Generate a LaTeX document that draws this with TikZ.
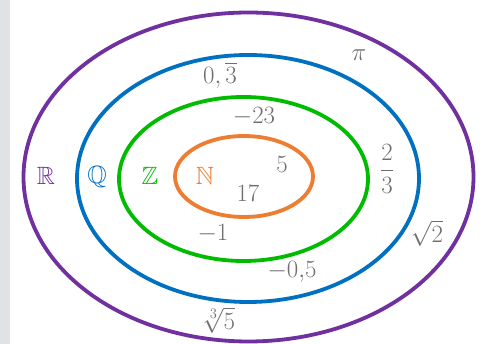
\documentclass[tikz,border=0pt]{standalone}
\usepackage{amsmath,amssymb}
\definecolor{cR}{HTML}{7030A0}
\definecolor{cQ}{HTML}{0070C0}
\definecolor{cZ}{HTML}{00BB00}
\definecolor{cN}{HTML}{ED7D31}
\definecolor{txt}{HTML}{6E6E6E}
\definecolor{strip}{HTML}{DFE3E6}
\begin{document}
\begin{tikzpicture}[x=1pt,y=-1pt,
  ring/.style={line width=3.8pt},
  num/.style={text=txt,inner sep=0pt,font=\fontsize{27}{30}\selectfont},
  setlbl/.style={inner sep=0pt,font=\fontsize{25}{30}\selectfont}]
\useasboundingbox (0,0) rectangle (483,344);
\fill[white] (0,0) rectangle (483,344);
\fill[strip] (0,0) rectangle (10,344);
\draw[ring,cR] (248.5,177) ellipse [x radius=225, y radius=164.5];
\draw[ring,cQ] (248,178.5) ellipse [x radius=171, y radius=123.5];
\draw[ring,cZ] (243.5,179) ellipse [x radius=124.5, y radius=82];
\draw[ring,cN] (244,176.5) ellipse [x radius=69, y radius=40.5];
\node[setlbl,text=cR] (R) at (46,176) {$\mathbb{R}$};
\node[setlbl,text=cQ] (Q) at (97,177) {$\mathbb{Q}$};
\node[setlbl,text=cZ] (Z) at (150,176) {$\mathbb{Z}$};
\node[setlbl,text=cN] (N) at (205,176) {$\mathbb{N}$};
\node[num] (pi) at (359,55) {$\pi$};
\node[num] (q3) at (220,75) {$0,\overline{3}$};
\node[num] (m23) at (254,117) {$-23$};
\node[num] (n5) at (282,164) {$5$};
\node[num] (n17) at (248,193) {$17$};
\node[num] (f23) at (387,169) {$\dfrac{2}{3}$};
\node[num] (m1) at (213,234) {$-1$};
\node[num] (s2) at (427,233) {$\sqrt{2}$};
\node[num] (m05) at (292,272) {$-0{,}5$};
\node[num] (c5) at (219,320) {$\sqrt[3]{5}$};
\end{tikzpicture}
\end{document}
